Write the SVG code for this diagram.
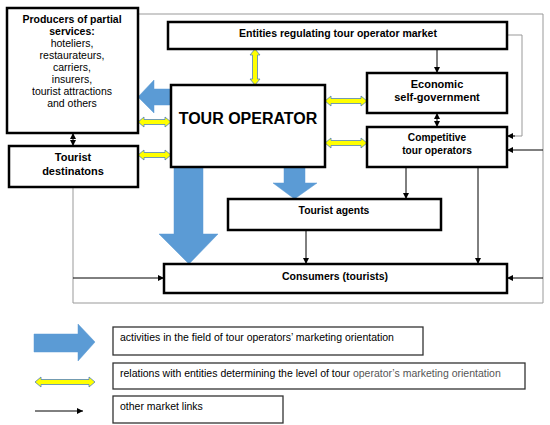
<svg xmlns="http://www.w3.org/2000/svg" width="550" height="425" viewBox="0 0 550 425">
<style>
  text { font-family: "Liberation Sans", Arial, sans-serif; fill: #000; }
  .b { font-weight: bold; }
  .node { fill: #fff; stroke: #000; stroke-width: 2.5; }
  .leg { fill: #fff; stroke: #333; stroke-width: 1.3; }
  .blue { fill: #5b9bd5; stroke: #5b9bd5; stroke-width: 0.5; }
  .yel { fill: #ffff00; stroke: #4f81bd; stroke-width: 0.8; }
  .ln { fill: none; stroke: #000; stroke-width: 1; }
  .gr { fill: none; stroke: #999; stroke-width: 1; }
</style>
<defs>
  <marker id="ah" markerUnits="userSpaceOnUse" markerWidth="7" markerHeight="7" refX="6" refY="3" orient="auto-start-reverse">
    <path d="M0,0 L6,3 L0,6 z" fill="#000"/>
  </marker>
</defs>
<rect width="550" height="425" fill="#fff"/>

<g id="connectors">
  <polyline class="gr" points="138,14 543,14 543,303 73,303 73,187"/>
  <polyline class="gr" points="507,35 522,35 522,136 513,136"/>
  <line class="ln" x1="515" y1="136" x2="507" y2="136" marker-end="url(#ah)"/>
  <line class="ln" x1="437" y1="49" x2="437" y2="73" marker-end="url(#ah)"/>
  <line class="ln" x1="437" y1="113" x2="437" y2="127" marker-start="url(#ah)" marker-end="url(#ah)"/>
  <line class="ln" x1="73" y1="133" x2="73" y2="146" marker-start="url(#ah)" marker-end="url(#ah)"/>
  <line class="ln" x1="406" y1="167" x2="406" y2="199" marker-end="url(#ah)"/>
  <line class="ln" x1="478" y1="167" x2="478" y2="264" marker-end="url(#ah)"/>
  <line class="ln" x1="306" y1="230" x2="306" y2="264" marker-end="url(#ah)"/>
  <line class="ln" x1="543" y1="150" x2="507" y2="150" marker-end="url(#ah)"/>
  <line class="ln" x1="543" y1="278" x2="507" y2="278" marker-end="url(#ah)"/>
  <line class="ln" x1="73" y1="278" x2="164" y2="278" marker-end="url(#ah)"/>
  <!-- yellow relation arrows -->
  <path class="yel" d="M255,49 L260,55 L257.5,55 L257.5,79 L260,79 L255,85 L250,79 L252.5,79 L252.5,55 L250,55 Z"/>
  <path class="yel" d="M138,122 L144,117 L144,119.5 L165,119.5 L165,117 L171,122 L165,127 L165,124.5 L144,124.5 L144,127 Z"/>
  <path class="yel" d="M138,155 L144,150 L144,152.5 L165,152.5 L165,150 L171,155 L165,160 L165,157.5 L144,157.5 L144,160 Z"/>
  <path class="yel" d="M325,101 L331,96 L331,98.5 L361,98.5 L361,96 L367,101 L361,106 L361,103.5 L331,103.5 L331,106 Z"/>
  <path class="yel" d="M325,143 L331,138 L331,140.5 L361,140.5 L361,138 L367,143 L361,148 L361,145.5 L331,145.5 L331,148 Z"/>
  <!-- blue activity arrows -->
  <path class="blue" d="M171,89 L154,89 L154,80 L138,97 L154,113 L154,105 L171,105 Z"/>
  <path class="blue" d="M174,167 L203,167 L203,234 L218,234 L189,264 L159,234 L174,234 Z"/>
  <path class="blue" d="M284,167 L305,167 L305,183 L317,183 L294.5,199 L273,183 L284,183 Z"/>
</g>

<g id="producers">
  <rect class="node" x="7" y="8" width="131" height="125"/>
  <text x="72" y="23" font-size="10.5" text-anchor="middle" class="b">Producers of partial</text>
  <text x="72" y="35" font-size="10.5" text-anchor="middle" class="b">services:</text>
  <text x="72" y="47" font-size="10.5" text-anchor="middle">hoteliers,</text>
  <text x="72" y="59" font-size="10.5" text-anchor="middle">restaurateurs,</text>
  <text x="72" y="71" font-size="10.5" text-anchor="middle">carriers,</text>
  <text x="72" y="83" font-size="10.5" text-anchor="middle">insurers,</text>
  <text x="72" y="95" font-size="10.5" text-anchor="middle">tourist attractions</text>
  <text x="72" y="107" font-size="10.5" text-anchor="middle">and others</text>
</g>

<g id="destinations">
  <rect class="node" x="9" y="146" width="129" height="41"/>
  <text x="73" y="161" font-size="11" text-anchor="middle" class="b">Tourist</text>
  <text x="73" y="175" font-size="11" text-anchor="middle" class="b">destinatons</text>
</g>

<g id="entities">
  <rect class="node" x="168" y="22" width="339" height="27"/>
  <text x="338" y="37" font-size="10.5" text-anchor="middle" class="b">Entities regulating tour operator market</text>
</g>

<g id="tour-operator">
  <rect class="node" x="171" y="85" width="154" height="82"/>
  <text x="248" y="124" font-size="16" text-anchor="middle" class="b">TOUR OPERATOR</text>
</g>

<g id="economic">
  <rect class="node" x="367" y="73" width="140" height="40"/>
  <text x="437" y="88" font-size="11" text-anchor="middle" class="b">Economic</text>
  <text x="437" y="101" font-size="11" text-anchor="middle" class="b">self-government</text>
</g>

<g id="competitive">
  <rect class="node" x="367" y="127" width="140" height="40"/>
  <text x="437" y="141" font-size="10.2" text-anchor="middle" class="b">Competitive</text>
  <text x="437" y="154" font-size="10.2" text-anchor="middle" class="b">tour operators</text>
</g>

<g id="agents">
  <rect class="node" x="228" y="199" width="213" height="31"/>
  <text x="334" y="214" font-size="10.4" text-anchor="middle" class="b">Tourist agents</text>
</g>

<g id="consumers">
  <rect class="node" x="164" y="264" width="343" height="29"/>
  <text x="335" y="280" font-size="10.5" text-anchor="middle" class="b">Consumers (tourists)</text>
</g>

<g id="legend">
  <path class="blue" d="M34,334 L78,334 L78,324 L95,342 L78,361 L78,352 L34,352 Z"/>
  <rect class="leg" x="113" y="327" width="310" height="28"/>
  <text x="120" y="341" font-size="10.5">activities in the field of tour operators’ marketing orientation</text>
  <path class="yel" d="M35,382 L41,377 L41,379.5 L89,379.5 L89,377 L95,382 L89,387 L89,384.5 L41,384.5 L41,387 Z"/>
  <rect class="leg" x="113" y="363" width="412" height="26"/>
  <text x="120" y="377" font-size="10.5">relations with entities determining the level of tour <tspan fill="#555">operator’s marketing orientation</tspan></text>
  <line class="ln" x1="35" y1="411" x2="83" y2="411" stroke="#333" marker-end="url(#ah)"/>
  <rect class="leg" x="113" y="396" width="170" height="27"/>
  <text x="120" y="410" font-size="10.5" fill="#333">other market links</text>
</g>
</svg>
